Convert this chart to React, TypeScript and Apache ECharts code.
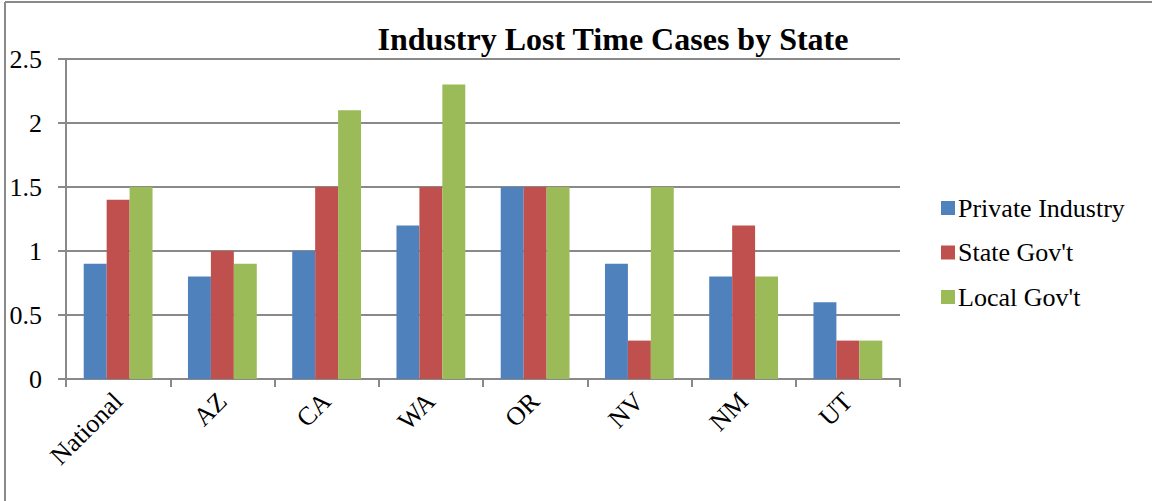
import React, { useEffect, useRef } from "react";
import * as echarts from "echarts";

const categories = ["National", "AZ", "CA", "WA", "OR", "NV", "NM", "UT"];
const privateIndustry = [0.9, 0.8, 1.0, 1.2, 1.5, 0.9, 0.8, 0.6];
const stateGov = [1.4, 1.0, 1.5, 1.5, 1.5, 0.3, 1.2, 0.3];
const localGov = [1.5, 0.9, 2.1, 2.3, 1.5, 1.5, 0.8, 0.3];
const seriesNames = ["Private Industry", "State Gov't", "Local Gov't"];
const colors = ["#4F81BD", "#C0504D", "#9BBB59"];

const FONT = "Liberation Serif";
const GRAY = "#898989";

export default function App() {
  const ref = useRef<HTMLDivElement>(null);
  useEffect(() => {
    document.body.style.margin = "0";
    const chart = echarts.init(ref.current!, null, { renderer: "svg" });
    const data = [privateIndustry, stateGov, localGov];
    chart.setOption({
      animation: false,
      textStyle: { fontFamily: FONT },
      title: {
        text: "Industry Lost Time Cases by State",
        left: 608,
        textAlign: "center",
        top: 18,
        textStyle: { fontFamily: FONT, fontSize: 32, fontWeight: "bold", color: "#000" },
      },
      legend: {
        orient: "vertical",
        left: 936,
        top: 190,
        itemWidth: 14,
        itemHeight: 14,
        itemGap: 18.5,
        icon: "rect",
        textStyle: { fontFamily: FONT, fontSize: 26, color: "#000", padding: [0, 0, 0, -2] },
        data: seriesNames,
      },
      grid: { left: 66, right: 252, top: 59, bottom: 122, containLabel: false },
      xAxis: {
        type: "category",
        data: categories,
        boundaryGap: true,
        axisLine: { lineStyle: { color: GRAY, width: 2 } },
        axisTick: { show: true, length: 8, alignWithLabel: false, lineStyle: { color: GRAY, width: 2 } },
        axisLabel: { rotate: 45, fontFamily: FONT, fontSize: 26, color: "#000", margin: 18, interval: 0 },
      },
      yAxis: {
        type: "value",
        min: 0,
        max: 2.5,
        interval: 0.5,
        axisLine: { show: true, lineStyle: { color: GRAY, width: 2 } },
        axisTick: { show: true, length: 8, lineStyle: { color: GRAY, width: 2 } },
        axisLabel: { fontFamily: FONT, fontSize: 26, color: "#000", margin: 24 },
        splitLine: { lineStyle: { color: GRAY, width: 2 } },
      },
      series: seriesNames.map((name, i) => ({
        name,
        type: "bar",
        data: data[i],
        itemStyle: { color: colors[i] },
        barGap: "0%",
        barCategoryGap: "34%",
      })),
      graphic: [
        { type: "line", shape: { x1: 5, y1: 2, x2: 1152, y2: 2 }, style: { stroke: GRAY, lineWidth: 2 } },
        { type: "line", shape: { x1: 5, y1: 2, x2: 5, y2: 501 }, style: { stroke: GRAY, lineWidth: 2 } },
      ],
    });
    return () => chart.dispose();
  }, []);
  return <div ref={ref} style={{ width: 1152, height: 501 }} />;
}
